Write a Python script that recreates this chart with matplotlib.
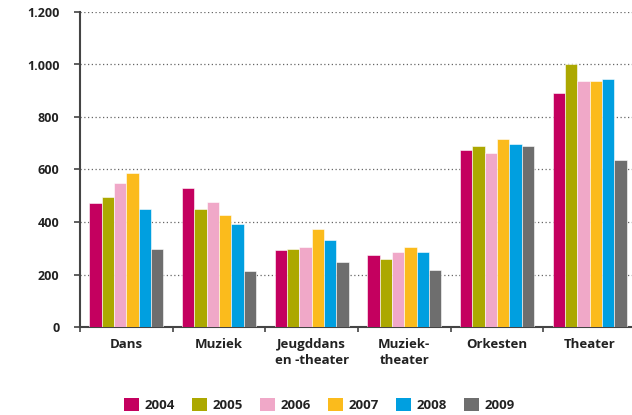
import matplotlib
matplotlib.use("Agg")
import matplotlib.pyplot as plt
import numpy as np
from matplotlib.patches import Patch

categories = ["Dans", "Muziek", "Jeugddans\nen -theater", "Muziek-\ntheater", "Orkesten", "Theater"]
years = ["2004", "2005", "2006", "2007", "2008", "2009"]
v2004 = [472, 530, 293, 274, 675, 890]
v2005 = [495, 450, 298, 259, 688, 1000]
v2006 = [548, 478, 305, 287, 664, 937]
v2007 = [588, 427, 373, 305, 716, 937]
v2008 = [450, 392, 332, 287, 699, 943]
v2009 = [298, 213, 247, 218, 688, 636]
yticks = [0, 200, 400, 600, 800, 1000, 1200]
yticklabels = ["0", "200", "400", "600", "800", "1.000", "1.200"]

series = [v2004, v2005, v2006, v2007, v2008, v2009]
colors = ["#c4005f", "#aca800", "#f0a8c8", "#fbbb1c", "#009fe0", "#6e6e6e"]

plt.rcParams['font.family'] = ['Open Sans', 'DejaVu Sans']
txtcol = "#222222"

fig = plt.figure(figsize=(6.32, 4.15), dpi=100)
ax = fig.add_axes([80/632, 88/415, 556/632, 315/415])

x = np.arange(len(categories))
n = len(series)
bw = 0.8 / n
for i, (vals, c) in enumerate(zip(series, colors)):
    ax.bar(x - 0.4 + bw*(i+0.5), vals, width=bw, color=c, edgecolor="white",
           linewidth=0.4, label=years[i], zorder=3)

ax.set_xlim(-0.5, len(categories) - 0.5)
ax.set_ylim(0, 1200)
ax.set_yticks(yticks)
ax.set_yticklabels(yticklabels, fontsize=9, fontweight="bold", color=txtcol)
ax.yaxis.grid(True, linestyle=(0, (1, 2)), color="#666666", linewidth=0.9, zorder=0)
ax.set_axisbelow(True)

ax.set_xticks(x)
ax.set_xticklabels(categories, fontsize=9.5, fontweight="bold", color=txtcol, linespacing=1.3,
                   va="top")
ax.tick_params(axis="x", which="major", length=0, pad=8)
ax.set_xticks(np.arange(len(categories) + 1) - 0.5, minor=True)
ax.tick_params(axis="x", which="minor", length=3.6, width=1.2, color="#444444", direction="out")
ax.tick_params(axis="y", length=4.3, width=1.2, color="#444444", pad=10.5)

for s in ["top", "right"]:
    ax.spines[s].set_visible(False)
for s in ["left", "bottom"]:
    ax.spines[s].set_color("#444444")
    ax.spines[s].set_linewidth(1.5)

handles = [Patch(facecolor=c, edgecolor="none") for c in colors]
fig.legend(handles, years, loc="center", bbox_to_anchor=(0.505, 10/415), ncol=6, frameon=False,
           handlelength=1.15, handleheight=1.15, handletextpad=0.4, columnspacing=1.3,
           prop={"size": 9.5, "weight": "bold"}, labelcolor=txtcol)

fig.savefig("out.png", dpi=100)
